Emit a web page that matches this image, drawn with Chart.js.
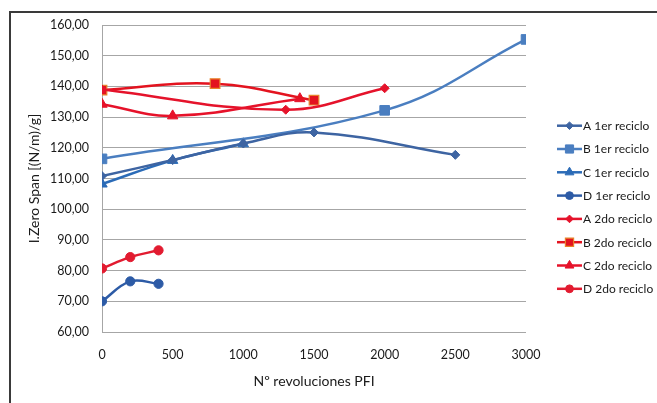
<!DOCTYPE html>
<html>
<head>
<meta charset="utf-8">
<script src="https://cdn.jsdelivr.net/npm/chart.js@4.4.1/dist/chart.umd.min.js"></script>
<style>
  html, body { margin: 0; padding: 0; background: #fff; }
  #wrap { width: 657px; height: 403px; position: relative; }
</style>
</head>
<body>
<div id="wrap"><canvas id="zeroSpan" width="657" height="403"></canvas></div>
<script>
// revoluciones PFI (x) and I.Zero Span values (y) per series
const revA1 = [0, 500, 1000, 1500, 2500];
const zsA1  = [110.8, 116.0, 121.4, 125.0, 117.7];
const revB1 = [0, 2000, 3000];
const zsB1  = [116.4, 132.2, 155.3];
const revC1 = [0, 500, 1000];
const zsC1  = [108.2, 115.9, 121.3];
const revD1 = [0, 200, 400];
const zsD1  = [70.0, 76.5, 75.7];

const revA2 = [0, 1300, 2000];
const zsA2  = [139.0, 132.4, 139.4];
const revB2 = [0, 800, 1500];
const zsB2  = [138.8, 140.9, 135.5];
const revC2 = [0, 500, 1400];
const zsC2  = [134.2, 130.4, 136.0];
const revD2 = [0, 200, 400];
const zsD2  = [80.7, 84.4, 86.6];

const xTickValues = [0, 500, 1000, 1500, 2000, 2500, 3000];
const yTickValues = [60, 70, 80, 90, 100, 110, 120, 130, 140, 150, 160];

const FONT = 'Lato, "Open Sans", sans-serif';

function pts(xs, ys) {
    return xs.map((x, i) => ({ x: x, y: ys[i] }));
}

function series(label, xs, ys, color, style, radius, border) {
    return {
        label: label,
        data: pts(xs, ys),
        borderColor: color,
        backgroundColor: color,
        borderWidth: 2.5,
        pointStyle: style,
        pointRadius: radius,
        pointHoverRadius: radius,
        pointBackgroundColor: color,
        pointBorderColor: border || color,
        pointBorderWidth: border ? 1.2 : 1,
        tension: 0.4,
        fill: false
    };
}

const datasets = [
    series('A 1er reciclo', revA1, zsA1, '#3D64A2', 'rectRot', 4.5),
    series('B 1er reciclo', revB1, zsB1, '#4A7EC0', 'rect', 6.8),
    series('C 1er reciclo', revC1, zsC1, '#2B6BB7', 'triangle', 6),
    series('D 1er reciclo', revD1, zsD1, '#2D5BA6', 'circle', 4.6),
    series('A 2do reciclo', revA2, zsA2, '#E5132B', 'rectRot', 4.5),
    series('B 2do reciclo', revB2, zsB2, '#E3131F', 'rect', 6.8, '#E8822A'),
    series('C 2do reciclo', revC2, zsC2, '#E6122A', 'triangle', 6),
    series('D 2do reciclo', revD2, zsD2, '#E21B30', 'circle', 4.6)
];

// outer frame (only top and left edges are visible in the crop)
const framePlugin = {
    id: 'frame',
    beforeDraw(chart) {
        const ctx = chart.ctx;
        ctx.save();
        ctx.strokeStyle = '#3a3a3a';
        ctx.lineWidth = 2;
        ctx.beginPath();
        ctx.moveTo(10, 403);
        ctx.lineTo(10, 12);
        ctx.lineTo(657, 12);
        ctx.stroke();
        ctx.restore();
    }
};

// Excel-like legend on the right: line sample with marker, then label
const legendPlugin = {
    id: 'sideLegend',
    afterDraw(chart) {
        const ctx = chart.ctx;
        const x0 = 557, x1 = 582, top = 125.7, step = 23.3;
        ctx.save();
        chart.data.datasets.forEach((ds, i) => {
            const y = top + i * step;
            ctx.strokeStyle = ds.borderColor;
            ctx.lineWidth = 2.5;
            ctx.beginPath();
            ctx.moveTo(x0, y);
            ctx.lineTo(x1, y);
            ctx.stroke();
            ctx.fillStyle = ds.pointBackgroundColor;
            ctx.strokeStyle = ds.pointBorderColor;
            ctx.lineWidth = ds.pointBorderWidth;
            Chart.helpers.drawPoint(ctx, {
                pointStyle: ds.pointStyle,
                radius: ds.pointRadius * 0.85,
                rotation: 0,
                borderWidth: ds.pointBorderWidth
            }, (x0 + x1) / 2, y);
            ctx.fillStyle = '#1a1a1a';
            ctx.font = '12px ' + FONT;
            ctx.textBaseline = 'middle';
            ctx.textAlign = 'left';
            ctx.fillText(ds.label, x1 + 1, y + 0.5);
        });
        ctx.restore();
    }
};

new Chart(document.getElementById('zeroSpan'), {
    type: 'line',
    data: { datasets: datasets },
    plugins: [framePlugin, legendPlugin],
    options: {
        responsive: false,
        devicePixelRatio: 1,
        animation: false,
        layout: { padding: { top: 25, right: 131, bottom: 0, left: 0 } },
        plugins: {
            legend: { display: false },
            tooltip: { enabled: false }
        },
        scales: {
            x: {
                type: 'linear',
                min: 0,
                max: 3000,
                afterFit(scale) { scale.height = 71; },
                afterBuildTicks(scale) { scale.ticks = xTickValues.map(v => ({ value: v })); },
                grid: { display: false, drawTicks: false },
                border: { display: false },
                ticks: {
                    padding: 15,
                    color: '#1a1a1a',
                    font: { family: FONT, size: 12.5 },
                    maxRotation: 0,
                    callback: v => String(v)
                },
                title: {
                    display: true,
                    text: 'Nº revoluciones PFI',
                    color: '#1a1a1a',
                    font: { family: FONT, size: 14 },
                    padding: { top: 0, bottom: 13.6 }
                }
            },
            y: {
                min: 60,
                max: 160,
                afterFit(scale) { scale.width = 102; },
                afterBuildTicks(scale) { scale.ticks = yTickValues.map(v => ({ value: v })); },
                grid: { color: '#A6A6A6', lineWidth: 1, drawTicks: false },
                border: { display: true, color: '#A6A6A6', width: 1 },
                ticks: {
                    padding: 13,
                    color: '#1a1a1a',
                    font: { family: FONT, size: 12.5 },
                    callback: v => v.toFixed(2).replace('.', ',')
                },
                title: {
                    display: true,
                    text: 'I.Zero Span [(N/m)/g]',
                    color: '#1a1a1a',
                    font: { family: FONT, size: 14 },
                    padding: { top: 25.6, bottom: 0 }
                }
            }
        }
    }
});
</script>
</body>
</html>
